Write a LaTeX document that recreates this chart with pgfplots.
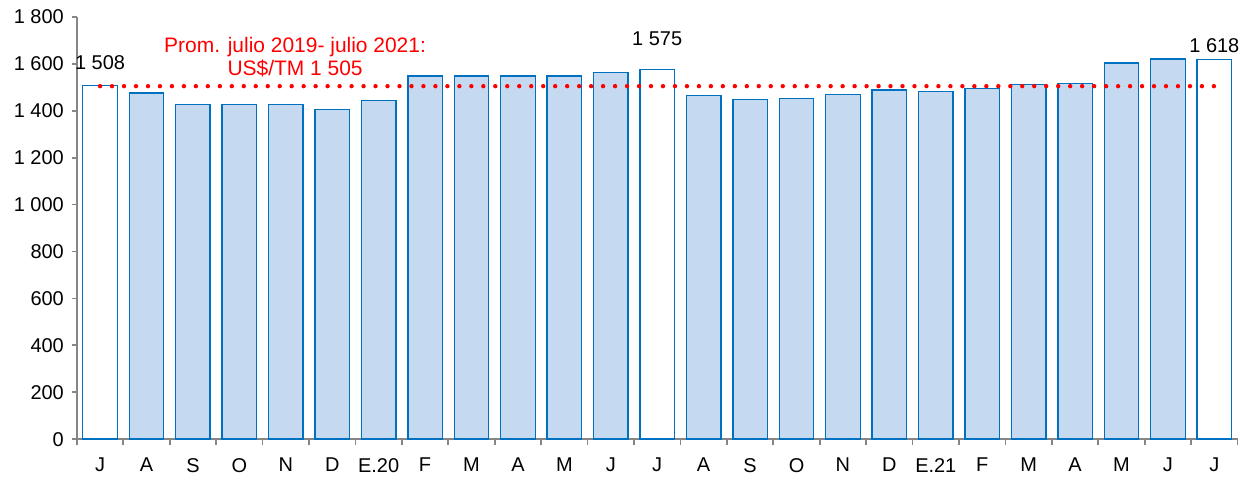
\documentclass[border=0pt]{standalone}
\usepackage{pgfplots}
\pgfplotsset{compat=1.18}
\usepackage{fontspec}
\setmainfont{Liberation Sans}
\definecolor{barfill}{RGB}{197,217,241}
\definecolor{baredge}{RGB}{0,112,192}
\definecolor{axgray}{RGB}{134,134,134}
\begin{document}
\begin{tikzpicture}
\begin{axis}[
  name=ax,
  scale only axis,
  width=581.5pt, height=211.5pt,
  xmin=-0.5, xmax=24.5,
  ymin=0, ymax=1800,
  axis x line*=bottom, axis y line*=left,
  axis line style={axgray, line width=0.9pt, -},
  ytick={0,200,...,1800},
  yticklabels={0,200,400,600,800,1 000,1 200,1 400,1 600,1 800},
  xtick={0,...,24},
  xticklabels={J,A,S,O,N,D,E.20,F,M,A,M,J,J,A,S,O,N,D,E.21,F,M,A,M,J,J},
  minor xtick={-0.5,0.5,...,24.5},
  tick style={axgray, line width=0.9pt},
  tick align=outside,
  major tick length=2.5pt,
  major x tick style={draw=none},
  minor tick length=3pt,
  ticklabel style={font=\fontsize{10}{12}\selectfont, text=black},
  xticklabel style={yshift=-3.5pt},
  yticklabel style={xshift=-0.5pt},
  ybar, bar width=17.3pt,
  clip=false,
]
\addplot[ybar, bar shift=0pt, fill=barfill, draw=baredge, line width=0.7pt] coordinates {
 (1,1476) (2,1428) (3,1428) (4,1428) (5,1405) (6,1444) (7,1549) (8,1549) (9,1549) (10,1549) (11,1563)
 (13,1466) (14,1448) (15,1452) (16,1469) (17,1489) (18,1482) (19,1495) (20,1513) (21,1516) (22,1603) (23,1620)
};
\addplot[ybar, bar shift=0pt, fill=white, draw=baredge, line width=0.7pt] coordinates {
 (0,1508) (12,1575) (24,1618)
};
\addplot[sharp plot, red, line width=2.2pt, line cap=round, dash pattern=on 0pt off 6pt, mark=none] coordinates {
 (0,1505) (24,1505)
};
\node[font=\fontsize{10}{12}\selectfont] at (axis cs:0,1605) {1 508};
\node[font=\fontsize{10}{12}\selectfont] at (axis cs:12,1708) {1 575};
\node[font=\fontsize{10}{12}\selectfont] at (axis cs:24,1678) {1 618};
\node[font=\fontsize{10.5}{11.5}\selectfont, text=red, align=center] at (axis cs:4.2,1629) {Prom. julio 2019- julio 2021:\\US\$/TM 1 505};
\end{axis}
\path[use as bounding box] ([xshift=-38.5pt,yshift=-16pt]ax.south west) rectangle ([xshift=3pt,yshift=8.5pt]ax.north east);
\end{tikzpicture}
\end{document}
